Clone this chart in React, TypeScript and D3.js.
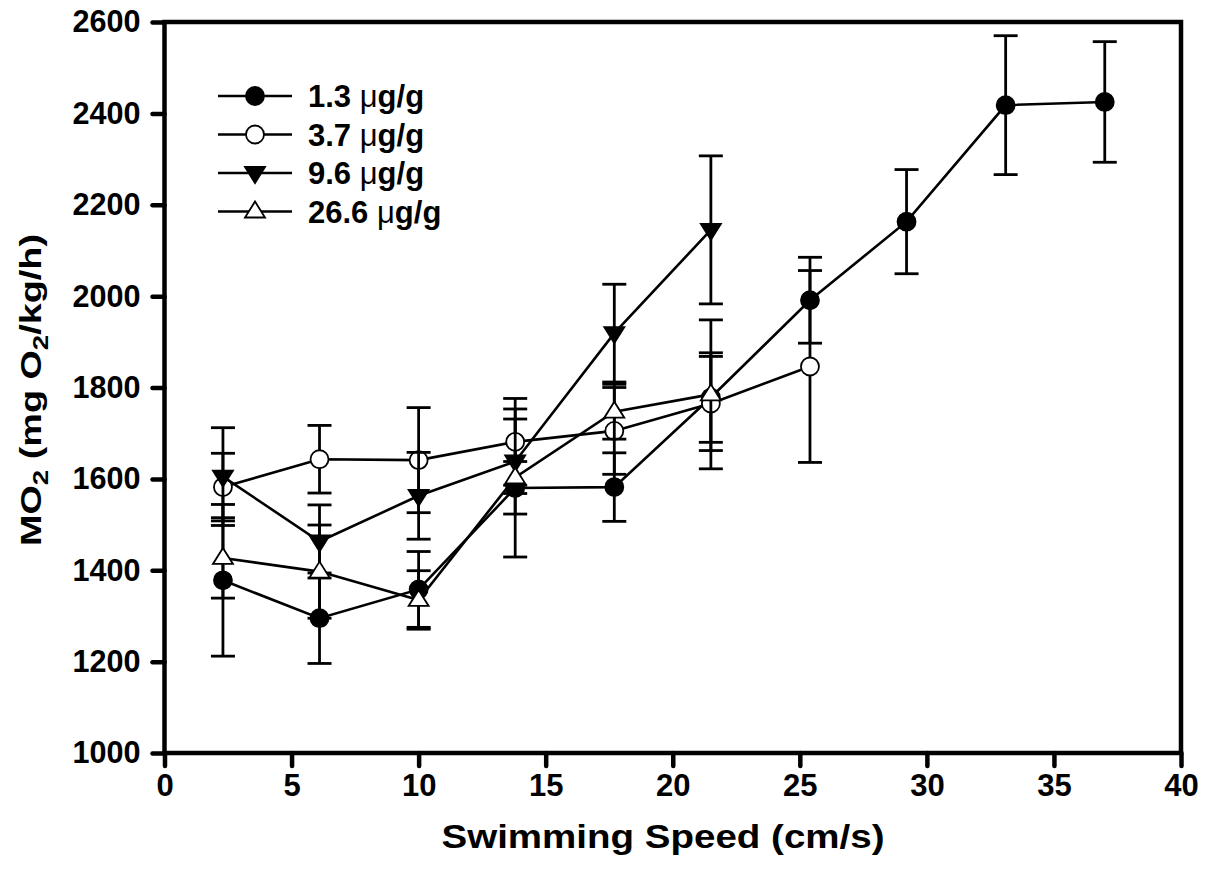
import React, { useEffect, useRef } from 'react';
import * as d3 from 'd3';

// swimming speed (cm/s) of each step
const speeds = [2.3, 6.1, 10.0, 13.8, 17.7, 21.5, 25.4, 29.2, 33.1, 37.0];

// MO2 means and SE per dose group
const dose13 = [1378, 1295, 1358, 1580, 1582, 1778, 1991, 2163, 2418, 2425];
const dose13Err = [166, 99, 83, 151, 75, 98, 94, 114, 152, 132];
const dose37 = [1582, 1643, 1641, 1681, 1705, 1765, 1846];
const dose37Err = [74, 74, 115, 95, 95, 103, 210];
const dose96 = [1605, 1463, 1563, 1638, 1919, 2145];
const dose96Err = [107, 80, 95, 115, 107, 162];
const dose266 = [1427, 1397, 1335, 1603, 1747, 1785];
const dose266Err = [88, 102, 64, 35, 60, 163];

const legendLabels = ['1.3', '3.7', '9.6', '26.6'];
const xTicks = [0, 5, 10, 15, 20, 25, 30, 35, 40];
const yTicks = [1000, 1200, 1400, 1600, 1800, 2000, 2200, 2400, 2600];

const App = () => {
  const svgRef = useRef(null);

  useEffect(() => {
    const svg = d3.select(svgRef.current);
    svg.selectAll('*').remove();

    const font = '"Liberation Sans", Arial, sans-serif';
    const left = 164.5, right = 1181, top = 22, bottom = 753;

    const x = d3.scaleLinear().domain([0, 40]).range([left, right]);
    const y = d3.scaleLinear().domain([1000, 2600]).range([bottom, top]);

    const series = [
      { values: dose13, err: dose13Err, marker: 'circle', fill: 'black' },
      { values: dose37, err: dose37Err, marker: 'circle', fill: 'white' },
      { values: dose96, err: dose96Err, marker: 'down', fill: 'black' },
      { values: dose266, err: dose266Err, marker: 'up', fill: 'white' }
    ];

    const drawMarker = (g, kind, fill, cx, cy) => {
      if (kind === 'circle') {
        g.append('circle')
          .attr('cx', cx).attr('cy', cy).attr('r', 9)
          .attr('fill', fill).attr('stroke', 'black').attr('stroke-width', 1.8);
      } else {
        const s = 10;
        const pts = kind === 'down'
          ? [[cx - s, cy - s * 0.6], [cx + s, cy - s * 0.6], [cx, cy + s * 1.0]]
          : [[cx - s, cy + s * 0.6], [cx + s, cy + s * 0.6], [cx, cy - s * 1.0]];
        g.append('polygon')
          .attr('points', pts.map(p => p.join(',')).join(' '))
          .attr('fill', fill).attr('stroke', 'black').attr('stroke-width', 1.8)
          .attr('stroke-linejoin', 'miter');
      }
    };

    const line = d3.line().x(d => x(d[0])).y(d => y(d[1]));
    const capW = 12;

    series.forEach(s => {
      const pts = s.values.map((v, i) => [speeds[i], v, s.err[i]]);
      const g = svg.append('g');

      g.append('path')
        .attr('d', line(pts))
        .attr('fill', 'none')
        .attr('stroke', 'black')
        .attr('stroke-width', 2.6);

      pts.forEach(([sx, v, e]) => {
        const cx = x(sx);
        g.append('line')
          .attr('x1', cx).attr('x2', cx)
          .attr('y1', y(v - e)).attr('y2', y(v + e))
          .attr('stroke', 'black').attr('stroke-width', 2.8);
        [v - e, v + e].forEach(c => {
          g.append('line')
            .attr('x1', cx - capW).attr('x2', cx + capW)
            .attr('y1', y(c)).attr('y2', y(c))
            .attr('stroke', 'black').attr('stroke-width', 2.8);
        });
      });

      pts.forEach(([sx, v]) => drawMarker(g, s.marker, s.fill, x(sx), y(v)));
    });

    // frame
    svg.append('rect')
      .attr('x', left).attr('y', top)
      .attr('width', right - left).attr('height', bottom - top)
      .attr('fill', 'none').attr('stroke', 'black').attr('stroke-width', 4.5);

    // x axis ticks
    const xAxis = d3.axisBottom(x).tickValues(xTicks).tickSize(13).tickPadding(8)
      .tickFormat(d3.format('d'));
    const gx = svg.append('g').attr('transform', `translate(0,${bottom})`).call(xAxis);
    gx.select('.domain').remove();
    gx.selectAll('.tick line').attr('stroke-width', 4.5).attr('stroke-linecap', 'round');
    gx.selectAll('.tick text')
      .attr('font-family', font).attr('font-weight', 'bold').attr('font-size', 31)
      .attr('fill', 'black');

    // y axis ticks
    const yAxis = d3.axisLeft(y).tickValues(yTicks).tickSize(12).tickPadding(12)
      .tickFormat(d3.format('d'));
    const gy = svg.append('g').attr('transform', `translate(${left},0)`).call(yAxis);
    gy.select('.domain').remove();
    gy.selectAll('.tick line').attr('stroke-width', 4.5).attr('stroke-linecap', 'round');
    gy.selectAll('.tick text')
      .attr('font-family', font).attr('font-weight', 'bold').attr('font-size', 31)
      .attr('textLength', 68).attr('lengthAdjust', 'spacingAndGlyphs')
      .attr('fill', 'black');

    // axis titles
    svg.append('text')
      .attr('x', 663).attr('y', 848)
      .attr('text-anchor', 'middle')
      .attr('font-family', font).attr('font-weight', 'bold').attr('font-size', 33)
      .attr('textLength', 443).attr('lengthAdjust', 'spacingAndGlyphs')
      .text('Swimming Speed (cm/s)');

    const yt = svg.append('text')
      .attr('transform', 'translate(41,390) rotate(-90)')
      .attr('text-anchor', 'middle')
      .attr('font-family', font).attr('font-weight', 'bold').attr('font-size', 30)
      .attr('textLength', 312).attr('lengthAdjust', 'spacingAndGlyphs');
    yt.append('tspan').text('MO');
    yt.append('tspan').attr('font-size', 22).attr('dy', 7).text('2');
    yt.append('tspan').attr('dy', -7).text(' (mg O');
    yt.append('tspan').attr('font-size', 22).attr('dy', 7).text('2');
    yt.append('tspan').attr('dy', -7).text('/kg/h)');

    // legend
    const legend = svg.append('g');
    series.forEach((s, i) => {
      const ly = 96 + i * 38.5;
      legend.append('line')
        .attr('x1', 218).attr('x2', 292).attr('y1', ly).attr('y2', ly)
        .attr('stroke', 'black').attr('stroke-width', 2.6);
      drawMarker(legend, s.marker, s.fill, 255, ly);
      const t = legend.append('text')
        .attr('x', 308).attr('y', ly + 11)
        .attr('font-family', font).attr('font-weight', 'bold').attr('font-size', 31);
      t.append('tspan').text(`${legendLabels[i]} `);
      t.append('tspan').attr('font-weight', 'normal').text('μ');
      t.append('tspan').text('g/g');
    });
  }, []);

  return (
    <div style={{ position: 'absolute', left: 0, top: 0, background: 'white' }}>
      <svg ref={svgRef} width={1207} height={869}></svg>
    </div>
  );
};

export default App;
